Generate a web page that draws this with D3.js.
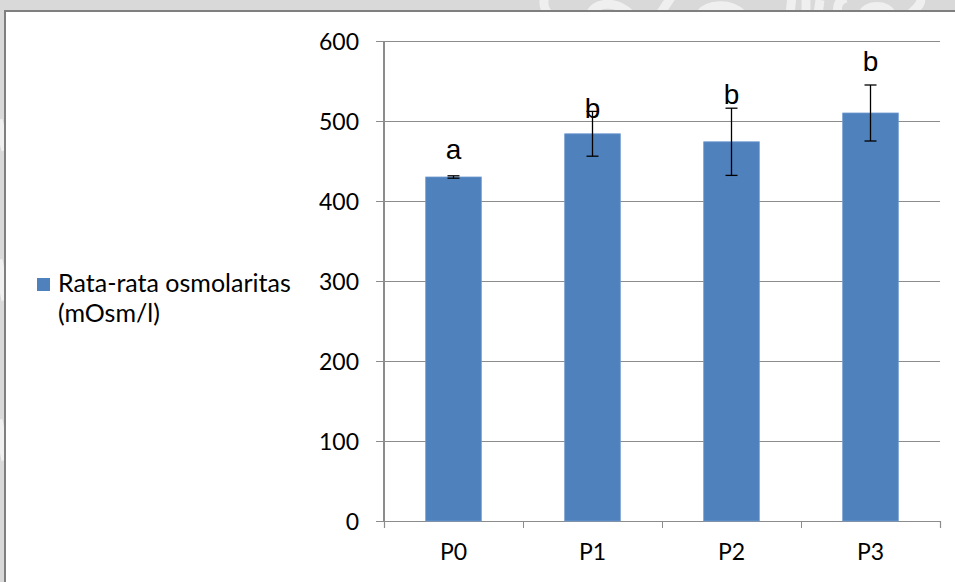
<!DOCTYPE html>
<html><head><meta charset="utf-8">
<script src="https://cdn.jsdelivr.net/npm/d3@7"></script>
<style>
html,body{margin:0;padding:0;background:#d9d9d9;}
svg{display:block;}
</style></head>
<body>
<svg id="chart" width="955" height="582"></svg>
<script>
// ---- data ----
const categories = ["P0", "P1", "P2", "P3"];
const meanValues = [430, 484, 474, 510];
const errorValues = [1.5, 28, 42, 35];
const letterLabels = ["a", "b", "b", "b"];
const letterHeights = [453, 504, 521, 562];   // annotation baselines, in data units
const yTicks = [0, 100, 200, 300, 400, 500, 600];
const seriesName = ["Rata-rata osmolaritas", "(mOsm/l)"];

// ---- layout ----
const W = 955, H = 582;
const plot = {left: 384, right: 940, top: 41, bottom: 521};
const svg = d3.select("#chart");

// background + faint watermark shapes in the grey margin
svg.append("rect").attr("width", W).attr("height", H).attr("fill", "#d9d9d9");
const wm = svg.append("g").attr("fill", "none").attr("stroke", "#f2f2f2").attr("stroke-width", 9).attr("opacity", 0.9);
wm.append("path").attr("d", "M548,14 C540,2 545,-6 552,-10");
wm.append("path").attr("d", "M590,14 C596,2 616,0 630,14");
wm.append("path").attr("d", "M660,14 L672,-4");
wm.append("path").attr("d", "M700,14 C708,4 730,2 742,14");
wm.append("path").attr("d", "M790,14 L792,-4 M806,14 L806,0 M818,14 L820,0");
wm.append("path").attr("d", "M838,14 C836,4 840,0 846,-2");
wm.append("path").attr("d", "M862,14 C868,4 886,4 892,14");
wm.append("path").attr("d", "M910,14 C920,6 924,0 918,-6");
wm.append("path").attr("d", "M-2,120 L6,150 M-2,260 L6,300 M-2,420 L6,460");

// white chart area with border
svg.append("rect").attr("x", 5).attr("y", 11).attr("width", W).attr("height", H)
  .attr("fill", "#ffffff").attr("stroke", "#7f7f7f").attr("stroke-width", 2);

// ---- scales ----
const x = d3.scaleBand().domain(categories).range([plot.left, plot.right]).padding(0);
const barW = x.bandwidth() / 2.5;
const y = d3.scaleLinear().domain([0, 600]).range([plot.bottom, plot.top]);

const tickFont = "Lato, 'Open Sans', sans-serif";

// y axis: gridlines + outer tick marks + labels
const yAxis = d3.axisLeft(y).tickValues(yTicks).tickSizeInner(-(plot.right - (plot.left - 8)))
  .tickSizeOuter(0).tickPadding(17).tickFormat(d3.format("d"));
const gy = svg.append("g").attr("transform", `translate(${plot.left - 8},0)`).call(yAxis);
gy.select(".domain").remove();
gy.selectAll(".tick line").attr("stroke", "#8c8c8c").attr("stroke-width", 1.2).attr("shape-rendering", "crispEdges");
gy.selectAll(".tick text").attr("font-family", tickFont).attr("font-size", 23).attr("fill", "#000")
  .attr("dy", "0.36em");

// vertical axis line
svg.append("line").attr("x1", plot.left).attr("x2", plot.left).attr("y1", y(600)).attr("y2", y(0))
  .attr("stroke", "#8c8c8c").attr("stroke-width", 1.2).attr("shape-rendering", "crispEdges");

// x axis tick marks at category boundaries
const xb = d3.scaleLinear().domain([0, categories.length]).range([plot.left, plot.right]);
const gxt = svg.append("g").attr("transform", `translate(0,${plot.bottom})`)
  .call(d3.axisBottom(xb).tickValues(d3.range(categories.length + 1)).tickSize(7).tickFormat(""));
gxt.select(".domain").attr("stroke", "#8c8c8c").attr("stroke-width", 1.2);
gxt.selectAll(".tick line").attr("stroke", "#8c8c8c").attr("stroke-width", 1.2).attr("shape-rendering", "crispEdges");

// x axis labels
const gx = svg.append("g").attr("transform", `translate(0,${plot.bottom})`)
  .call(d3.axisBottom(x).tickSize(0).tickPadding(23));
gx.select(".domain").remove();
gx.selectAll(".tick text").attr("font-family", tickFont).attr("font-size", 23).attr("fill", "#000");

// ---- bars ----
const rows = categories.map((c, i) => ({c, v: meanValues[i], e: errorValues[i], l: letterLabels[i], ly: letterHeights[i]}));
svg.append("g").selectAll("rect").data(rows).join("rect")
  .attr("x", d => x(d.c) + (x.bandwidth() - barW) / 2)
  .attr("width", barW)
  .attr("y", d => y(d.v))
  .attr("height", d => y(0) - y(d.v))
  .attr("fill", "#4f81bd")
  .attr("stroke", "#6f9bd0").attr("stroke-width", 0.8);

// ---- error bars ----
const eb = svg.append("g").attr("stroke", "#000").attr("stroke-width", 1.3);
rows.forEach(d => {
  const cx = x(d.c) + x.bandwidth() / 2;
  eb.append("line").attr("x1", cx).attr("x2", cx).attr("y1", y(d.v + d.e)).attr("y2", y(d.v - d.e));
  eb.append("line").attr("x1", cx - 6).attr("x2", cx + 6).attr("y1", y(d.v + d.e)).attr("y2", y(d.v + d.e));
  eb.append("line").attr("x1", cx - 6).attr("x2", cx + 6).attr("y1", y(d.v - d.e)).attr("y2", y(d.v - d.e));
});

// ---- significance letters ----
svg.append("g").selectAll("text").data(rows).join("text")
  .attr("x", d => x(d.c) + x.bandwidth() / 2)
  .attr("y", d => y(d.ly))
  .attr("text-anchor", "middle")
  .attr("font-family", "'Liberation Sans', Arial, sans-serif")
  .attr("font-size", 28)
  .attr("fill", "#000")
  .text(d => d.l);

// ---- legend ----
const lg = svg.append("g").attr("transform", "translate(37,278)");
lg.append("rect").attr("width", 13).attr("height", 13).attr("fill", "#4f81bd");
lg.selectAll("text").data(seriesName).join("text")
  .attr("x", 21).attr("y", (d, i) => 14 + i * 30)
  .attr("font-family", tickFont).attr("font-size", 25).attr("fill", "#000")
  .text(d => d);
</script>
</body></html>
